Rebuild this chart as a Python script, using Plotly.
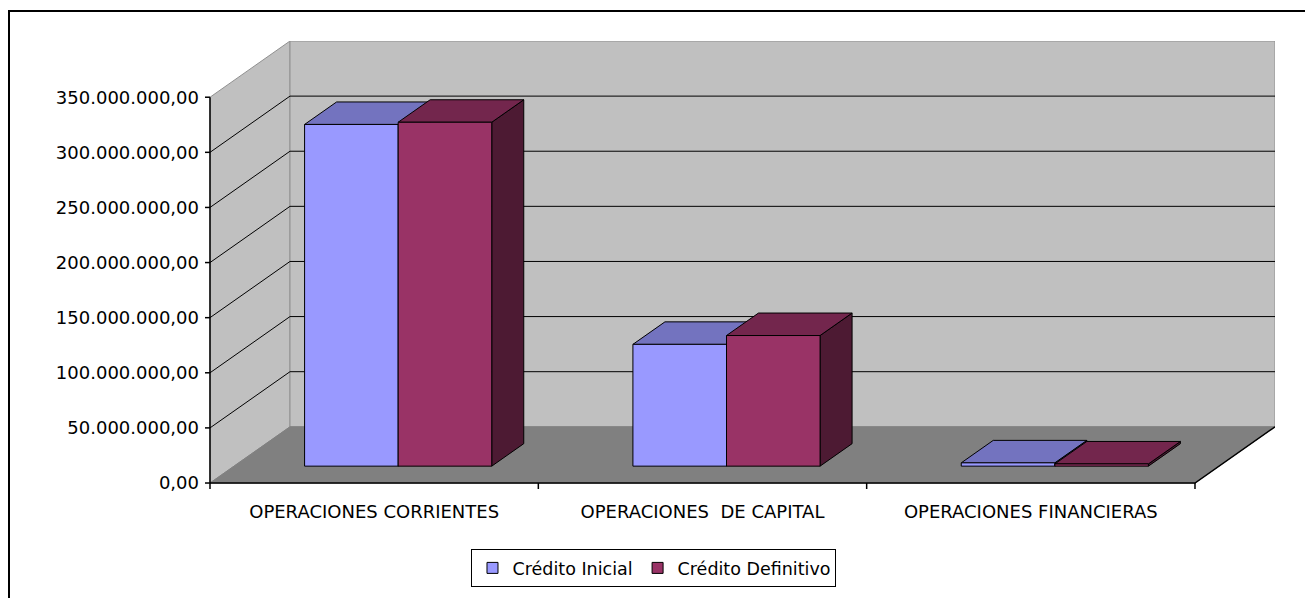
import plotly.graph_objects as go

# ---------------- data ----------------
categories = ["OPERACIONES CORRIENTES", "OPERACIONES  DE CAPITAL", "OPERACIONES FINANCIERAS"]
series_names = ["Crédito Inicial", "Crédito Definitivo"]
credito_inicial = [310.0e6, 110.5e6, 3.0e6]
credito_definitivo = [312.0e6, 118.5e6, 2.0e6]
tick_values = [0, 50e6, 100e6, 150e6, 200e6, 250e6, 300e6, 350e6]
tick_labels = ["0,00", "50.000.000,00", "100.000.000,00", "150.000.000,00",
               "200.000.000,00", "250.000.000,00", "300.000.000,00", "350.000.000,00"]

# ---------------- styling / geometry ----------------
OFF = 8                  # page body margin in the browser
W, H = 1313 - OFF, 598 - OFF
FONT = dict(family="DejaVu Sans", size=18, color="black")
front_cols = ["#9999FF", "#993366"]
top_cols = ["#7373BF", "#73264D"]
side_cols = ["#4D4D80", "#4D1A33"]
WALL = "#C0C0C0"
FLOOR = "#808080"

PX_X = 328.33            # pixels per category unit
PX_Y = 1.1047e-6         # pixels per value unit
DX = 0.2437              # depth offset in category units
DY = 51e6                # depth offset in value units
F0, F1 = 0.3, 0.7        # bar front/back depth fractions
BW = 0.285               # bar width in category units
ymax_axis = tick_values[-1]

x_lo = -0.5 - 10 / PX_X
x_hi = len(categories) - 0.5 + DX
y_lo = -8 / PX_Y
y_hi = ymax_axis + DY
L = 200 - OFF
T = 41 - OFF
pw = (x_hi - x_lo) * PX_X
ph = (y_hi - y_lo) * PX_Y
R = W - L - pw
B = H - T - ph


def px2paper_x(px):
    return (px - OFF - L) / pw


def px2paper_y(py):
    return (H - B - (py - OFF)) / ph


fig = go.Figure()


def poly(xs, ys, fill, line_color="black", width=1):
    fig.add_trace(go.Scatter(x=list(xs) + [xs[0]], y=list(ys) + [ys[0]], mode="lines",
                             fill="toself", fillcolor=fill,
                             line=dict(color=line_color, width=width),
                             hoverinfo="skip", showlegend=False))


def lines(xs, ys, color="black", width=1):
    fig.add_trace(go.Scatter(x=xs, y=ys, mode="lines", line=dict(color=color, width=width),
                             hoverinfo="skip", showlegend=False))


x0 = -0.5
x1 = len(categories) - 0.5
# side wall
poly([x0, x0 + DX, x0 + DX, x0], [0, DY, ymax_axis + DY, ymax_axis], WALL, "#909090")
# back wall
poly([x0 + DX, x1 + DX, x1 + DX, x0 + DX], [DY, DY, ymax_axis + DY, ymax_axis + DY], WALL, "#909090")
# floor
poly([x0, x1, x1 + DX, x0 + DX], [0, 0, DY, DY], FLOOR, FLOOR)

# gridlines
gx, gy = [], []
for v in tick_values[1:-1]:
    gx += [x0, x0 + DX, x1 + DX, None]
    gy += [v, v + DY, v + DY, None]
lines(gx, gy, "black", 1)

# axes
lines([x0, x0], [0, ymax_axis], "black", 1.5)
lines([x0, x1, x1 + DX], [0, 0, DY], "black", 1.5)
tx, ty = [], []
for v in tick_values:
    tx += [x0 - 5 / PX_X, x0, None]
    ty += [v, v, None]
for k in range(len(categories) + 1):
    tx += [x0 + k, x0 + k, None]
    ty += [0, -6 / PX_Y, None]
lines(tx, ty, "black", 1.5)

# bars
for i in range(len(categories)):
    for s, vals in enumerate([credito_inicial, credito_definitivo]):
        v = vals[i]
        a = i - BW + s * BW
        b = a + BW
        fx, fy = F0 * DX, F0 * DY
        bx, by = F1 * DX, F1 * DY
        # side
        poly([b + fx, b + bx, b + bx, b + fx], [fy, by, v + by, v + fy], side_cols[s])
        # top
        poly([a + fx, b + fx, b + bx, a + bx], [v + fy, v + fy, v + by, v + by], top_cols[s])
        # front
        poly([a + fx, b + fx, b + fx, a + fx], [fy, fy, v + fy, v + fy], front_cols[s])

# legend entries
for s, name in enumerate(series_names):
    fig.add_trace(go.Scatter(x=[None], y=[None], mode="markers", name=name,
                             marker=dict(symbol="square", size=11, color=front_cols[s],
                                         line=dict(color="black", width=1))))

shown = [c.replace("  ", " \u00a0") for c in categories]

fig.update_layout(
    width=W, height=H,
    margin=dict(l=L, r=R, t=T, b=B, pad=0),
    paper_bgcolor="white", plot_bgcolor="white",
    font=FONT,
    showlegend=True,
    legend=dict(orientation="h", x=px2paper_x(654), y=px2paper_y(549), xanchor="center", yanchor="top",
                bordercolor="black", borderwidth=1, bgcolor="white",
                font=dict(family="DejaVu Sans", size=17.5, color="black"),
                itemclick=False, itemdoubleclick=False),
    xaxis=dict(range=[x_lo, x_hi], showgrid=False, zeroline=False, showline=False,
               tickvals=list(range(len(categories))), ticktext=shown, ticks="",
               ticklabelstandoff=8, automargin=False, fixedrange=True),
    yaxis=dict(range=[y_lo, y_hi], showgrid=False, zeroline=False, showline=False,
               tickvals=tick_values, ticktext=tick_labels, ticks="",
               automargin=False, fixedrange=True),
    shapes=[
        dict(type="line", xref="paper", yref="paper", x0=px2paper_x(9), x1=px2paper_x(9),
             y0=px2paper_y(10), y1=px2paper_y(610), line=dict(color="black", width=2)),
        dict(type="line", xref="paper", yref="paper", x0=px2paper_x(8), x1=px2paper_x(1312),
             y0=px2paper_y(11), y1=px2paper_y(11), line=dict(color="black", width=2)),
        dict(type="line", xref="paper", yref="paper", x0=px2paper_x(1311.5), x1=px2paper_x(1311.5),
             y0=px2paper_y(11), y1=px2paper_y(610), line=dict(color="#A0A0A0", width=1)),
    ],
)

fig.write_html("out.html")
